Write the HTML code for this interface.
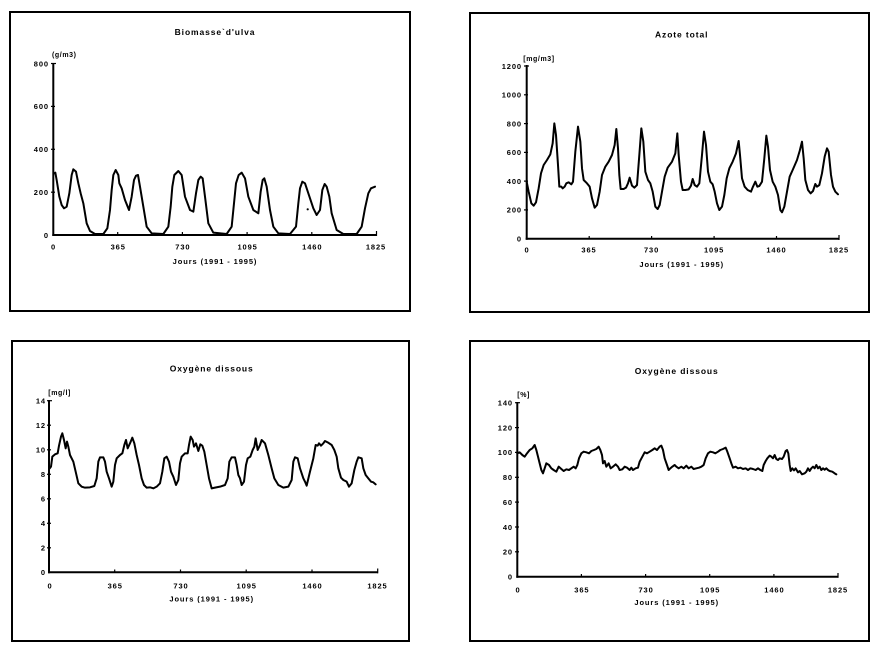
<!DOCTYPE html>
<html>
<head>
<meta charset="utf-8">
<style>
html,body{margin:0;padding:0;background:#fff;}
svg{display:block;}
text{font-family:"Liberation Sans",sans-serif;fill:#000;}
.t{font-size:8.5px;font-weight:bold;letter-spacing:0.9px;}
.k{font-size:7.5px;font-weight:bold;letter-spacing:0.9px;}
.u{font-size:7px;font-weight:bold;letter-spacing:0.6px;}
.ax{stroke:#000;stroke-width:2;fill:none;}
.tk{stroke:#000;stroke-width:1.2;}
.c{fill:none;stroke:#000;stroke-width:2;stroke-linejoin:round;stroke-linecap:round;}
</style>
</head>
<body>
<svg width="880" height="651" viewBox="0 0 880 651" xmlns="http://www.w3.org/2000/svg">
<rect x="0" y="0" width="880" height="651" fill="#fff"/>

<!-- ===== Panel 1 ===== -->
<rect x="10" y="12" width="400" height="299" fill="none" stroke="#000" stroke-width="2"/>
<text class="t" x="215" y="35" text-anchor="middle">Biomasse`d'ulva</text>
<text class="u" x="52" y="57">(g/m3)</text>
<line class="ax" x1="53.3" y1="63" x2="53.3" y2="236"/>
<line class="ax" x1="52.3" y1="235" x2="377" y2="235"/>
<g class="tk">
<line x1="51" y1="63.5" x2="56" y2="63.5"/><line x1="51" y1="106.4" x2="55" y2="106.4"/>
<line x1="51" y1="149.3" x2="55" y2="149.3"/><line x1="51" y1="192.2" x2="55" y2="192.2"/>
<line x1="117.7" y1="232" x2="117.7" y2="235"/><line x1="182.4" y1="232" x2="182.4" y2="235"/>
<line x1="247.1" y1="232" x2="247.1" y2="235"/><line x1="311.8" y1="232" x2="311.8" y2="235"/>
<line x1="376.5" y1="231" x2="376.5" y2="236"/>
</g>
<g class="k" text-anchor="end">
<text x="49" y="66.3">800</text><text x="49" y="109.2">600</text><text x="49" y="152.1">400</text>
<text x="49" y="195">200</text><text x="49" y="237.8">0</text>
</g>
<g class="k" text-anchor="middle">
<text x="53.5" y="249.5">0</text><text x="118.2" y="249.5">365</text><text x="182.9" y="249.5">730</text>
<text x="247.6" y="249.5">1095</text><text x="312.3" y="249.5">1460</text><text x="376" y="249.5">1825</text>
</g>
<text class="k" x="215" y="264" text-anchor="middle">Jours (1991 - 1995)</text>
<g transform="translate(50,160) scale(0.33333)">
<polyline class="c" vector-effect="non-scaling-stroke" points="12,40 16,38 20,60 28,110 35,135 42,145 50,140 58,100 65,45 70,28 78,35 85,70 92,100 100,130 110,190 120,213 135,222 160,222 172,205 180,150 185,90 190,45 197,30 205,45 208,70 215,85 225,120 237,150 245,110 252,60 258,47 264,45 270,80 280,140 290,200 305,220 340,222 355,200 362,140 367,80 373,45 385,33 395,45 405,110 420,150 430,155 438,100 445,60 452,50 458,55 465,110 475,190 490,218 530,222 545,200 552,130 558,70 566,45 575,38 585,55 595,110 610,150 625,160 632,95 638,60 643,55 650,80 660,150 670,200 685,220 720,222 738,200 745,130 750,85 757,65 765,70 775,100 790,145 800,165 810,150 817,90 824,72 830,80 838,110 845,160 860,210 880,222 920,222 935,200 945,145 955,100 963,85 975,80"/>
</g>
<circle cx="307.7" cy="209.3" r="1.1" fill="#000"/>

<!-- ===== Panel 2 ===== -->
<rect x="470" y="13" width="399" height="299" fill="none" stroke="#000" stroke-width="2"/>
<text class="t" x="681.7" y="37.5" text-anchor="middle">Azote total</text>
<text class="u" x="523.3" y="61">[mg/m3]</text>
<line class="ax" x1="526.7" y1="65" x2="526.7" y2="239.7"/>
<line class="ax" x1="525.7" y1="238.7" x2="839.5" y2="238.7"/>
<g class="tk">
<line x1="524" y1="66" x2="529" y2="66"/><line x1="524" y1="94.8" x2="528" y2="94.8"/>
<line x1="524" y1="123.6" x2="528" y2="123.6"/><line x1="524" y1="152.4" x2="528" y2="152.4"/>
<line x1="524" y1="181.1" x2="528" y2="181.1"/><line x1="524" y1="209.9" x2="528" y2="209.9"/>
<line x1="589.2" y1="236" x2="589.2" y2="239"/><line x1="651.6" y1="236" x2="651.6" y2="239"/>
<line x1="714.1" y1="236" x2="714.1" y2="239"/><line x1="776.5" y1="236" x2="776.5" y2="239"/>
<line x1="839" y1="235" x2="839" y2="240"/>
</g>
<g class="k" text-anchor="end">
<text x="522" y="68.8">1200</text><text x="522" y="97.6">1000</text><text x="522" y="126.4">800</text>
<text x="522" y="155.2">600</text><text x="522" y="183.9">400</text><text x="522" y="212.7">200</text>
<text x="522" y="241.5">0</text>
</g>
<g class="k" text-anchor="middle">
<text x="527" y="252.5">0</text><text x="589" y="252.5">365</text><text x="651.6" y="252.5">730</text>
<text x="714.1" y="252.5">1095</text><text x="776.5" y="252.5">1460</text><text x="839" y="252.5">1825</text>
</g>
<text class="k" x="681.7" y="267" text-anchor="middle">Jours (1991 - 1995)</text>
<g transform="translate(522,115) scale(0.33333)">
<polyline class="c" vector-effect="non-scaling-stroke" points="14,200 20,230 28,265 35,272 42,262 50,220 57,175 65,150 75,135 85,118 92,85 97,25 102,60 108,150 112,215 118,215 122,220 128,215 133,205 140,202 148,208 153,200 160,110 168,35 175,80 180,160 185,195 195,205 203,215 210,250 218,278 225,270 233,230 240,180 250,155 260,140 270,120 278,90 283,42 288,100 292,180 296,222 305,222 312,218 318,205 323,188 330,212 337,218 345,210 352,120 358,40 364,80 370,170 378,195 385,205 392,230 400,275 407,282 413,270 420,230 428,185 437,158 450,140 460,115 466,55 470,120 477,200 482,225 490,225 500,223 507,212 512,192 518,210 525,215 532,205 540,120 546,50 552,90 558,170 565,200 572,208 578,230 585,265 592,285 600,275 607,240 614,190 622,160 632,140 642,115 650,78 654,120 660,190 668,215 677,225 687,230 693,215 700,200 706,215 712,213 720,200 727,130 733,62 738,95 744,165 752,200 760,215 768,240 775,285 780,292 787,275 795,230 803,185 812,165 825,135 833,108 840,80 845,130 850,195 858,225 866,235 873,228 880,207 885,215 892,210 900,175 908,125 915,100 920,110 927,180 933,215 940,230 948,238"/>
</g>

<!-- ===== Panel 3 ===== -->
<rect x="12" y="341" width="397" height="300" fill="none" stroke="#000" stroke-width="2"/>
<text class="t" x="211.7" y="371.5" text-anchor="middle">Oxygène dissous</text>
<text class="u" x="48.3" y="395">[mg/l]</text>
<line class="ax" x1="49" y1="400" x2="49" y2="573.3"/>
<line class="ax" x1="48" y1="572.3" x2="378" y2="572.3"/>
<g class="tk">
<line x1="47" y1="400.7" x2="52" y2="400.7"/><line x1="47" y1="425.2" x2="51" y2="425.2"/>
<line x1="47" y1="449.8" x2="51" y2="449.8"/><line x1="47" y1="474.3" x2="51" y2="474.3"/>
<line x1="47" y1="498.8" x2="51" y2="498.8"/><line x1="47" y1="523.3" x2="51" y2="523.3"/>
<line x1="47" y1="547.8" x2="51" y2="547.8"/>
<line x1="114.7" y1="569.5" x2="114.7" y2="572.3"/><line x1="180.5" y1="569.5" x2="180.5" y2="572.3"/>
<line x1="246.2" y1="569.5" x2="246.2" y2="572.3"/><line x1="312" y1="569.5" x2="312" y2="572.3"/>
<line x1="377.7" y1="568.5" x2="377.7" y2="573.3"/>
</g>
<g class="k" text-anchor="end">
<text x="46" y="403.5">14</text><text x="46" y="428">12</text><text x="46" y="452.6">10</text>
<text x="46" y="477.1">8</text><text x="46" y="501.6">6</text><text x="46" y="526.1">4</text>
<text x="46" y="550.6">2</text><text x="46" y="575.1">0</text>
</g>
<g class="k" text-anchor="middle">
<text x="50" y="588.5">0</text><text x="115.2" y="588.5">365</text><text x="181" y="588.5">730</text>
<text x="246.7" y="588.5">1095</text><text x="312.5" y="588.5">1460</text><text x="377.5" y="588.5">1825</text>
</g>
<text class="k" x="211.7" y="601.5" text-anchor="middle">Jours (1991 - 1995)</text>
<g transform="translate(45,425) scale(0.33333)">
<polyline class="c" vector-effect="non-scaling-stroke" points="14,130 18,125 22,95 30,88 38,85 42,62 48,35 52,25 57,45 62,70 66,50 70,65 75,90 85,110 92,140 100,175 110,185 120,188 135,187 148,183 155,160 160,110 165,97 175,97 180,110 185,140 192,160 200,185 205,170 210,120 215,100 225,90 232,85 238,60 243,45 248,70 255,55 262,38 268,55 275,90 282,120 290,160 297,180 305,188 315,187 325,190 335,185 345,175 352,140 358,100 365,95 372,110 378,140 385,155 393,180 400,165 405,115 410,95 420,85 428,85 432,60 437,35 443,45 447,65 453,55 460,78 466,58 472,62 478,80 485,120 492,160 500,190 510,188 525,185 540,180 548,160 553,110 560,97 570,97 575,120 580,150 585,160 590,180 597,170 603,120 608,100 616,95 623,75 628,65 632,40 638,75 645,60 650,45 660,55 670,90 680,130 688,160 700,180 715,188 730,185 740,165 745,110 750,97 758,100 765,130 775,160 780,170 785,182 795,140 800,120 805,100 812,60 818,62 822,55 828,62 835,55 840,48 848,52 860,60 868,75 875,95 880,130 888,158 895,165 905,170 912,185 920,175 928,135 935,110 940,97 950,100 955,130 962,150 970,160 978,170 985,172 992,178"/>
</g>

<!-- ===== Panel 4 ===== -->
<rect x="470" y="341" width="399" height="300" fill="none" stroke="#000" stroke-width="2"/>
<text class="t" x="676.7" y="374" text-anchor="middle">Oxygène dissous</text>
<text class="u" x="517.3" y="397">[%]</text>
<line class="ax" x1="517.3" y1="402" x2="517.3" y2="577.7"/>
<line class="ax" x1="516.3" y1="576.7" x2="838.5" y2="576.7"/>
<g class="tk">
<line x1="515" y1="402.7" x2="520" y2="402.7"/><line x1="515" y1="427.6" x2="519" y2="427.6"/>
<line x1="515" y1="452.4" x2="519" y2="452.4"/><line x1="515" y1="477.3" x2="519" y2="477.3"/>
<line x1="515" y1="502.1" x2="519" y2="502.1"/><line x1="515" y1="527" x2="519" y2="527"/>
<line x1="515" y1="551.8" x2="519" y2="551.8"/>
<line x1="581.4" y1="574" x2="581.4" y2="576.7"/><line x1="645.6" y1="574" x2="645.6" y2="576.7"/>
<line x1="709.7" y1="574" x2="709.7" y2="576.7"/><line x1="773.9" y1="574" x2="773.9" y2="576.7"/>
<line x1="838" y1="573" x2="838" y2="577.7"/>
</g>
<g class="k" text-anchor="end">
<text x="513" y="405.5">140</text><text x="513" y="430.4">120</text><text x="513" y="455.2">100</text>
<text x="513" y="480.1">80</text><text x="513" y="504.9">60</text><text x="513" y="529.8">40</text>
<text x="513" y="554.6">20</text><text x="513" y="579.5">0</text>
</g>
<g class="k" text-anchor="middle">
<text x="518" y="592.5">0</text><text x="581.9" y="592.5">365</text><text x="646.1" y="592.5">730</text>
<text x="710.2" y="592.5">1095</text><text x="774.4" y="592.5">1460</text><text x="838" y="592.5">1825</text>
</g>
<text class="k" x="676.7" y="605" text-anchor="middle">Jours (1991 - 1995)</text>
<g transform="translate(513,435) scale(0.33333)">
<polyline class="c" vector-effect="non-scaling-stroke" points="13,55 20,52 28,60 35,65 42,55 50,45 58,40 65,30 70,45 75,65 80,85 85,105 90,115 95,100 100,85 108,90 115,100 122,105 130,110 137,95 145,102 152,108 160,103 168,105 175,100 182,95 188,100 193,90 198,70 205,55 212,50 220,52 228,55 235,48 243,45 250,42 257,35 262,45 267,60 270,85 275,78 280,95 287,85 293,100 300,95 308,88 315,95 320,105 328,103 335,95 342,98 350,105 355,98 360,105 368,100 375,98 380,80 388,65 395,52 402,55 410,50 418,45 425,40 432,45 440,35 445,32 450,45 455,70 462,90 467,105 472,100 478,95 485,90 490,95 497,100 505,95 512,100 520,92 527,100 535,95 542,102 550,100 558,98 565,95 572,90 578,70 585,55 592,50 600,52 607,55 615,50 622,45 630,42 638,38 643,50 650,70 655,85 660,98 668,95 675,100 682,98 690,102 698,100 705,105 712,100 720,102 728,105 735,100 742,105 748,108 752,90 758,78 763,70 770,62 775,65 780,70 785,60 790,72 795,75 800,70 807,72 812,65 818,48 822,45 826,55 830,90 833,108 838,100 843,106 848,100 855,112 860,108 867,118 875,115 880,110 885,100 890,108 895,100 900,95 905,100 910,90 915,100 920,95 925,105 930,100 935,104 940,100 945,105 950,108 958,110 965,115 970,118"/>
</g>
</svg>
</body>
</html>
